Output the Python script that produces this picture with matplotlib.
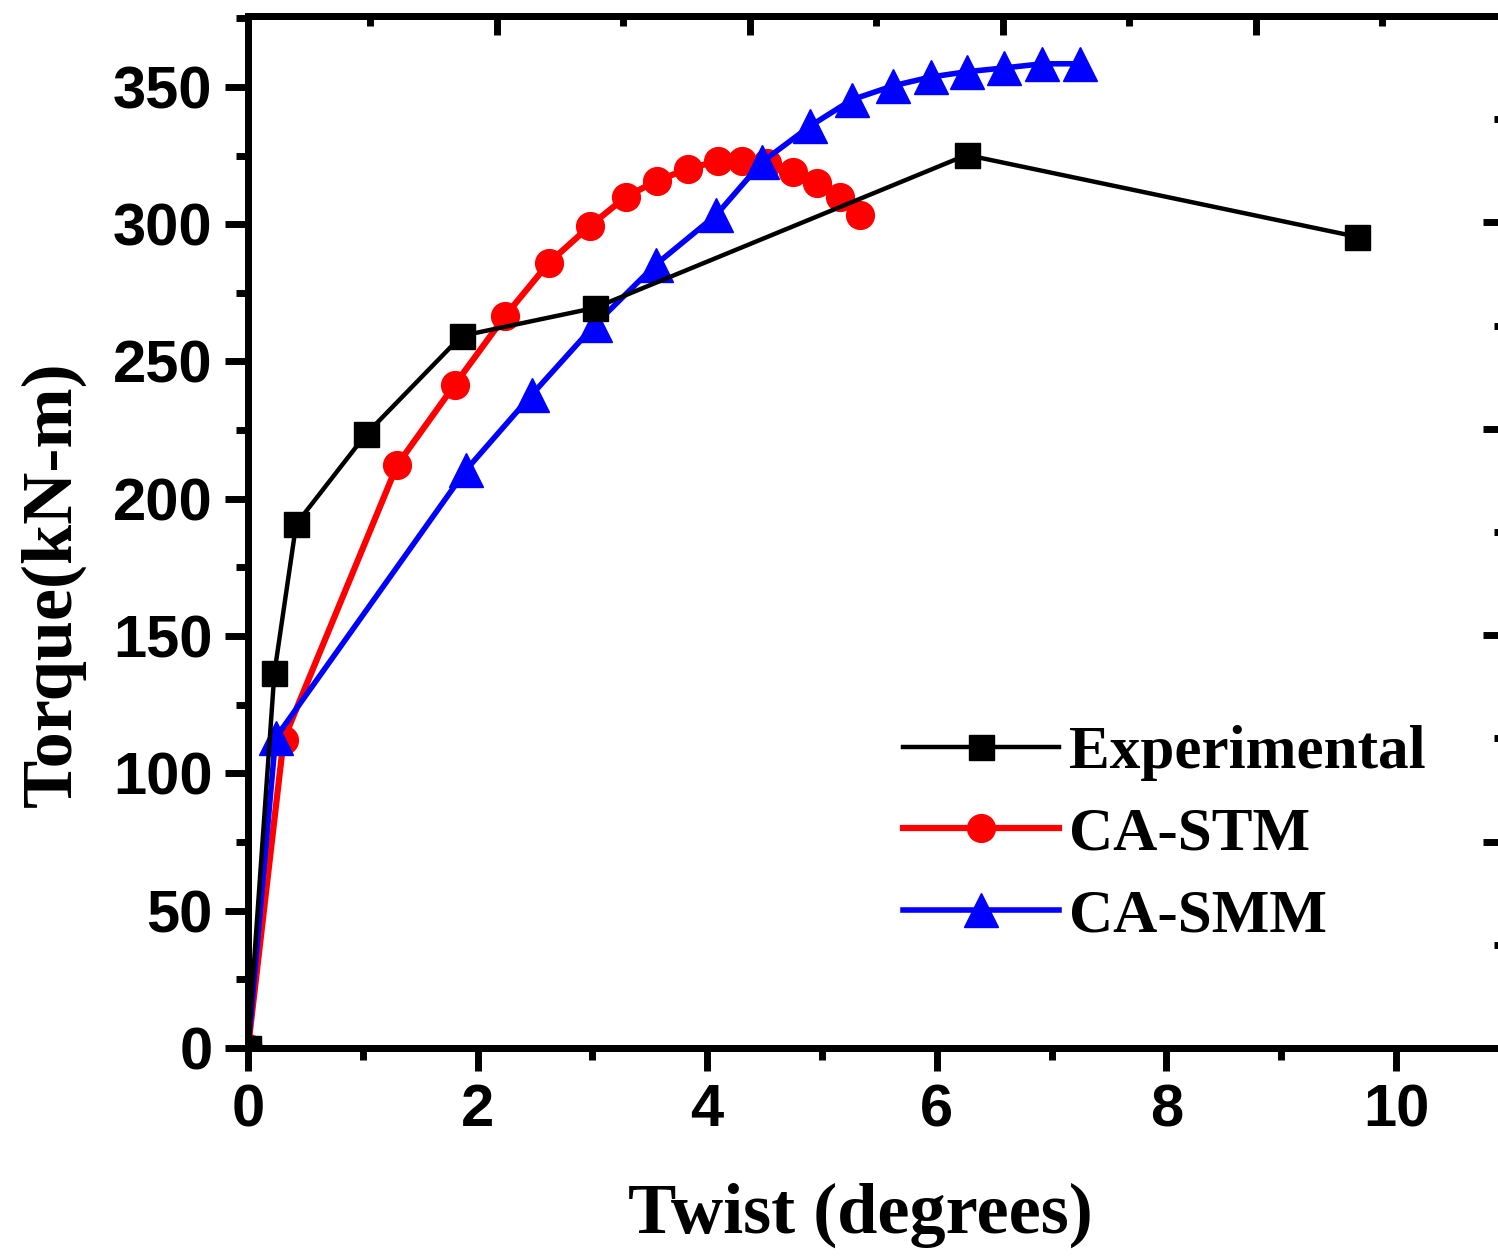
import matplotlib
matplotlib.use('Agg')
import matplotlib.pyplot as plt
from matplotlib import ticker

# torque-twist data
exp_twist = [0.0, 0.23, 0.42, 1.03, 1.86, 3.02, 6.26, 9.66]
exp_torque = [0.0, 136.6, 190.8, 223.6, 259.3, 269.5, 325.2, 295.4]

stm_twist = [0.0, 0.31, 1.30, 1.80, 2.24, 2.62, 2.98, 3.29, 3.56, 3.83,
             4.09, 4.30, 4.52, 4.75, 4.96, 5.16, 5.33]
stm_torque = [0.0, 112.2, 212.3, 241.5, 266.6, 285.9, 299.4, 309.9, 315.8, 320.1,
              323.0, 323.0, 322.3, 319.0, 315.0, 309.9, 303.4]

smm_twist = [0.0, 0.24, 1.90, 2.47, 3.02, 3.55, 4.08, 4.48, 4.90, 5.26,
             5.62, 5.95, 6.26, 6.59, 6.92, 7.25]
smm_torque = [0.0, 112.9, 210.5, 237.8, 263.3, 285.2, 303.4, 322.7, 335.8, 345.3,
              350.4, 353.6, 355.5, 356.9, 358.4, 358.4]

x_ticks = [0, 2, 4, 6, 8, 10]
y_ticks = [0, 50, 100, 150, 200, 250, 300, 350]

tick_font = {'family': 'Liberation Sans', 'weight': 'bold', 'size': 43}
label_font = {'family': 'Liberation Serif', 'weight': 'bold', 'size': 52}

dpi = 100
fig = plt.figure(figsize=(1498/dpi, 1257/dpi), dpi=dpi)
W, H = 1498, 1257
ax = fig.add_axes([248/W, 1 - 1048/H, (1505-248)/W, (1048-16)/H])

ax.plot(stm_twist, stm_torque, '-o', color='red', lw=4.5, ms=20, zorder=3, label='CA-STM')
ax.plot(smm_twist, smm_torque, '-^', color='blue', lw=4, ms=24, zorder=4, label='CA-SMM')
ax.plot(exp_twist, exp_torque, '-s', color='black', lw=3.2, ms=18, zorder=5, label='Experimental')

ax.set_xlim(0, 10.95)
ax.set_ylim(0, 375.8)
ax.set_xticks(x_ticks)
ax.set_yticks(y_ticks)
ax.xaxis.set_minor_locator(ticker.MultipleLocator(1))
ax.yaxis.set_minor_locator(ticker.MultipleLocator(25))
ax.set_xticklabels([str(v) for v in x_ticks], fontdict=tick_font)
ax.set_yticklabels([str(v) for v in y_ticks], fontdict=tick_font)
ax.tick_params(which='major', length=16.5, width=5, direction='out', pad=9)
ax.tick_params(which='minor', length=8.6, width=5, direction='out')
for s in ax.spines.values():
    s.set_linewidth(5)

ax.set_xlabel('Twist (degrees)', fontdict=label_font, va='center')
ax.xaxis.set_label_coords(0.487, -0.162)
ax.set_ylabel('Torque(kN-m)', fontdict=label_font, va='center', ha='center')
ax.yaxis.set_label_coords(-0.155, 0.4496)

# stray ticks of the neighbouring frame on top and right
topx = ax.twiny()
topx.set_xlim((248-244)/253, (1505-244)/253)
topx.xaxis.set_major_locator(ticker.MultipleLocator(1))
topx.xaxis.set_minor_locator(ticker.MultipleLocator(0.5))
topx.tick_params(which='both', direction='in', width=5, labeltop=False)
topx.tick_params(which='major', length=14)
topx.tick_params(which='minor', length=7)
rgty = ax.twinx()
rgty.set_ylim(0, 5)
rgty.yaxis.set_major_locator(ticker.MultipleLocator(1))
rgty.yaxis.set_minor_locator(ticker.MultipleLocator(0.5))
rgty.tick_params(which='both', direction='in', width=5, labelright=False)
rgty.tick_params(which='major', length=16)
rgty.tick_params(which='minor', length=8)
for a in (topx, rgty):
    for s in a.spines.values():
        s.set_linewidth(5)

h, l = ax.get_legend_handles_labels()
order = [2, 0, 1]
ax.legend([h[i] for i in order], [l[i] for i in order], loc='upper left',
          bbox_to_anchor=((903-248)/1257, (1048-725)/1032), frameon=False,
          borderpad=0, borderaxespad=0, handlelength=2.55, handletextpad=0.17,
          labelspacing=0.42, prop={'family': 'Liberation Serif', 'weight': 'bold', 'size': 44})

fig.savefig('out.png', dpi=dpi)
